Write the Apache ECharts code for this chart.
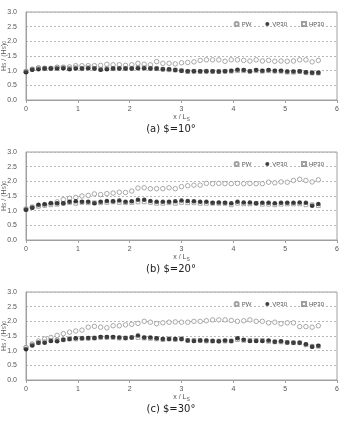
<!DOCTYPE html>
<html><head><meta charset="utf-8">
<script src="https://cdn.jsdelivr.net/npm/echarts@6/dist/echarts.min.js"></script>
<style>html,body{margin:0;padding:0;background:#fff}#c{width:342px;height:423px}</style>
</head><body><div id="c"></div>
<script>
const xs = [0,0.12,0.24,0.36,0.48,0.6,0.72,0.84,0.96,1.08,1.2,1.32,1.44,1.56,1.68,1.8,1.92,2.04,2.16,2.28,2.4,2.52,2.64,2.76,2.88,3.0,3.12,3.24,3.36,3.48,3.6,3.72,3.84,3.96,4.08,4.2,4.32,4.44,4.56,4.68,4.8,4.92,5.04,5.16,5.28,5.4,5.52,5.64];
const titles = ['(a) $=10°','(b) $=20°','(c) $=30°'];
const xTicks = [0,1,2,3,4,5,6];
const yTicks = [0.0,0.5,1.0,1.5,2.0,2.5,3.0];

const pw10 = [0.97,1.05,1.1,1.08,1.08,1.12,1.12,1.13,1.17,1.17,1.17,1.17,1.18,1.22,1.2,1.2,1.18,1.2,1.25,1.22,1.2,1.31,1.25,1.25,1.23,1.27,1.28,1.3,1.35,1.37,1.37,1.37,1.32,1.37,1.37,1.35,1.33,1.37,1.33,1.35,1.32,1.33,1.32,1.33,1.37,1.37,1.3,1.35];
const vp10 = [0.95,1.03,1.05,1.07,1.07,1.07,1.08,1.05,1.07,1.07,1.08,1.07,1.03,1.05,1.07,1.07,1.07,1.07,1.08,1.08,1.07,1.07,1.05,1.05,1.02,1.0,0.98,0.98,0.98,0.98,0.98,0.97,0.98,1.0,1.03,1.02,0.98,1.02,1.0,1.02,1.0,1.0,0.97,0.97,0.98,0.95,0.93,0.93];
const hp10 = [0.97,1.05,1.08,1.08,1.08,1.1,1.1,1.08,1.1,1.08,1.1,1.08,1.05,1.07,1.08,1.08,1.08,1.08,1.1,1.1,1.08,1.07,1.05,1.03,1.02,1.0,0.97,0.98,0.97,0.98,0.97,0.97,0.98,0.98,1.0,1.0,0.98,1.0,0.98,1.0,0.98,0.98,0.95,0.95,0.97,0.93,0.92,0.92];

const pw20 = [1.05,1.12,1.17,1.2,1.25,1.3,1.38,1.42,1.45,1.5,1.52,1.57,1.55,1.58,1.6,1.63,1.62,1.67,1.77,1.78,1.75,1.75,1.75,1.78,1.75,1.82,1.85,1.87,1.87,1.93,1.92,1.93,1.92,1.92,1.93,1.92,1.93,1.92,1.92,1.97,1.95,1.98,1.97,2.03,2.07,2.03,1.98,2.05];
const vp20 = [1.03,1.1,1.2,1.22,1.25,1.25,1.25,1.3,1.32,1.3,1.3,1.25,1.3,1.33,1.32,1.35,1.3,1.32,1.37,1.37,1.33,1.3,1.3,1.3,1.32,1.35,1.33,1.32,1.3,1.3,1.27,1.28,1.27,1.25,1.3,1.28,1.28,1.25,1.27,1.27,1.25,1.27,1.27,1.27,1.28,1.27,1.17,1.23];
const hp20 = [1.05,1.12,1.15,1.18,1.2,1.22,1.25,1.28,1.25,1.28,1.27,1.27,1.27,1.28,1.3,1.28,1.27,1.28,1.3,1.3,1.28,1.25,1.25,1.27,1.25,1.28,1.27,1.27,1.25,1.25,1.25,1.25,1.25,1.2,1.25,1.23,1.23,1.25,1.22,1.22,1.2,1.22,1.23,1.23,1.23,1.2,1.2,1.17];

const pw30 = [1.1,1.23,1.33,1.4,1.45,1.52,1.58,1.63,1.67,1.7,1.8,1.83,1.8,1.78,1.85,1.85,1.88,1.9,1.93,2.0,1.97,1.92,1.95,1.97,1.98,1.97,1.97,2.0,2.0,2.02,2.05,2.05,2.05,2.03,2.0,2.02,2.05,2.0,2.0,1.95,1.97,1.92,1.95,1.95,1.82,1.82,1.8,1.85];
const vp30 = [1.05,1.18,1.27,1.27,1.33,1.32,1.37,1.4,1.42,1.42,1.43,1.43,1.47,1.47,1.47,1.45,1.43,1.45,1.52,1.45,1.45,1.42,1.4,1.4,1.4,1.4,1.35,1.33,1.35,1.35,1.33,1.32,1.35,1.33,1.42,1.37,1.33,1.33,1.33,1.35,1.3,1.32,1.28,1.27,1.27,1.22,1.13,1.17];
const hp30 = [1.1,1.2,1.27,1.3,1.35,1.35,1.37,1.4,1.4,1.42,1.42,1.43,1.45,1.45,1.45,1.43,1.43,1.45,1.45,1.43,1.42,1.4,1.38,1.4,1.38,1.4,1.35,1.35,1.35,1.33,1.33,1.33,1.33,1.33,1.38,1.35,1.35,1.35,1.35,1.32,1.3,1.3,1.28,1.27,1.27,1.2,1.15,1.15];

const panels = [[pw10,vp10,hp10],[pw20,vp20,hp20],[pw30,vp30,hp30]];
const tops = [12,152,292];
const font = 'Liberation Sans, Arial, sans-serif';
const lab = {color:'#555', fontSize:7, fontFamily:font};

const grid=[], xAxis=[], yAxis=[], series=[], legend=[], title=[], graphic=[];
panels.forEach((p,k)=>{
  grid.push({left:26,right:5,top:tops[k],height:88,show:true,borderColor:'#a0a0a0',borderWidth:1,backgroundColor:'transparent',
    containLabel:false,outerBoundsMode:'none'});
  xAxis.push({type:'value',gridIndex:k,min:xTicks[0],max:xTicks[xTicks.length-1],interval:1,
    axisLine:{lineStyle:{color:'#a0a0a0'}},axisTick:{show:true,length:3,lineStyle:{color:'#a0a0a0'}},
    axisLabel:Object.assign({margin:6},lab),splitLine:{show:false},
    name:'x / L{s|S}',nameLocation:'middle',nameGap:13,
    nameTextStyle:{color:'#555',fontSize:7,fontFamily:font,rich:{s:{fontSize:5,verticalAlign:'bottom',padding:[4,0,0,0],color:'#555',fontFamily:font}}}});
  yAxis.push({type:'value',gridIndex:k,min:yTicks[0],max:yTicks[yTicks.length-1],interval:0.5,
    axisLine:{show:true,lineStyle:{color:'#a0a0a0'}},axisTick:{show:false},
    axisLabel:Object.assign({margin:9,formatter:v=>v.toFixed(1)},lab),
    splitLine:{show:true,lineStyle:{color:'#b8b8b8',type:[2,2],width:1}}});
  graphic.push({type:'text',x:1,y:tops[k]+44,rotation:Math.PI/2,
    style:{text:'H{s|S} / (H{s|S}){s|0}',fill:'#555',font:'7px '+font,align:'center',verticalAlign:'top',
      rich:{s:{fontSize:5,fill:'#555',fontFamily:font}}}});
  series.push({name:'PW',type:'scatter',xAxisIndex:k,yAxisIndex:k,symbol:'circle',symbolSize:4.5,
    itemStyle:{color:'#fff',borderColor:'#888',borderWidth:0.9},data:xs.map((x,i)=>[x,p[0][i]]),z:2});
  series.push({name:'HP30',type:'scatter',xAxisIndex:k,yAxisIndex:k,symbol:'rect',symbolSize:3.8,
    itemStyle:{color:'#fff',borderColor:'#888',borderWidth:0.9},data:xs.map((x,i)=>[x,p[2][i]]),z:3});
  series.push({name:'VP30',type:'scatter',xAxisIndex:k,yAxisIndex:k,symbol:'circle',symbolSize:4.5,
    itemStyle:{color:'#111',borderColor:'#111',borderWidth:0},data:xs.map((x,i)=>[x,p[1][i]]),z:4});
  legend.push({top:tops[k]+4,right:13,itemGap:14,itemWidth:4,itemHeight:4,
    data:[{name:'PW',icon:'circle'},{name:'VP30',icon:'circle'},{name:'HP30',icon:'rect'}],
    textStyle:{color:'#555',fontSize:6,fontFamily:font,padding:[0,0,0,-2]}});
  title.push({text:titles[k],left:'center',top:tops[k]+107,textStyle:{fontSize:10,fontWeight:'normal',color:'#222',fontFamily:'DejaVu Sans, sans-serif'}});
});
const chart = echarts.init(document.getElementById('c'),null,{renderer:'canvas'});
chart.setOption({animation:false,backgroundColor:'#fff',grid,xAxis,yAxis,series,legend,title,graphic});
</script></body></html>
